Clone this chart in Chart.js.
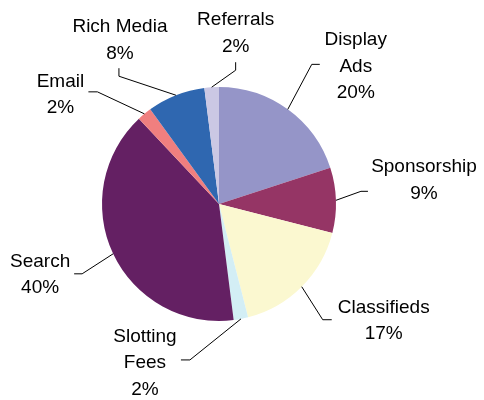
<!DOCTYPE html>
<html>
<head>
<meta charset="utf-8">
<script src="https://cdn.jsdelivr.net/npm/chart.js@4.4.0/dist/chart.umd.min.js"></script>
<style>
  html, body { margin: 0; padding: 0; background: #fff; }
  #wrap { width: 484px; height: 400px; }
</style>
</head>
<body>
<div id="wrap"><canvas id="chart"></canvas></div>
<script>
// data
var categories = ["Display Ads", "Sponsorship", "Classifieds", "Slotting Fees", "Search", "Email", "Rich Media", "Referrals"];
var shares = [20, 9, 17, 2, 40, 2, 8, 2];
var labelLines = [["Display", "Ads"], ["Sponsorship"], ["Classifieds"], ["Slotting", "Fees"], ["Search"], ["Email"], ["Rich Media"], ["Referrals"]];
var sliceColors = ["#9595c8", "#953565", "#fbf8d0", "#d3eef5", "#642063", "#f07f7f", "#2f67b0", "#cbc8e4"];

// leader line layout, relative to the slice edge point:
// elbow offset, end offset, text centre offset, first baseline offset
var labelLayout = [
    {elbow: [24, -45], end: [32, -45], text: [68, -64]},
    {elbow: [25, -9], end: [32, -9], text: [88, -28]},
    {elbow: [21, 33], end: [30, 33], text: [82, 26]},
    {elbow: [-51, 41], end: [-60, 41], text: [-96, 23]},
    {elbow: [-31, 20], end: [-39, 20], text: [-73, 13]},
    {elbow: [-47, -22], end: [-56, -22], text: [-84, -27]},
    {elbow: [-57, -19], end: [-57, -27], text: [-56, -63]},
    {elbow: [24, -17], end: [24, -25], text: [24, -62]}
];

var leaderPlugin = {
    id: "leaders",
    afterDatasetsDraw: function (chart) {
        var ctx = chart.ctx;
        var meta = chart.getDatasetMeta(0);
        ctx.save();
        ctx.font = "19px 'Liberation Sans', Arial, sans-serif";
        ctx.textAlign = "center";
        ctx.textBaseline = "alphabetic";
        meta.data.forEach(function (arc, i) {
            var mid = (arc.startAngle + arc.endAngle) / 2;
            var sx = arc.x + Math.cos(mid) * arc.outerRadius;
            var sy = arc.y + Math.sin(mid) * arc.outerRadius;
            var lay = labelLayout[i];
            ctx.strokeStyle = "#000";
            ctx.lineWidth = 1;
            ctx.beginPath();
            ctx.moveTo(sx, sy);
            ctx.lineTo(sx + lay.elbow[0], sy + lay.elbow[1]);
            ctx.lineTo(sx + lay.end[0], sy + lay.end[1]);
            ctx.stroke();
            var lines = labelLines[i].concat([shares[i] + "%"]);
            ctx.fillStyle = "#000";
            for (var j = 0; j < lines.length; j++) {
                ctx.fillText(lines[j], sx + lay.text[0], sy + lay.text[1] + j * 26.5);
            }
        });
        ctx.restore();
    }
};

new Chart(document.getElementById("chart"), {
    type: "pie",
    data: {
        labels: categories,
        datasets: [{
            data: shares,
            backgroundColor: sliceColors,
            borderWidth: 0
        }]
    },
    options: {
        responsive: true,
        maintainAspectRatio: false,
        animation: false,
        layout: {padding: {top: 87, bottom: 79, left: 102, right: 148}},
        plugins: {
            legend: {display: false},
            tooltip: {enabled: false}
        }
    },
    plugins: [leaderPlugin]
});
</script>
</body>
</html>
